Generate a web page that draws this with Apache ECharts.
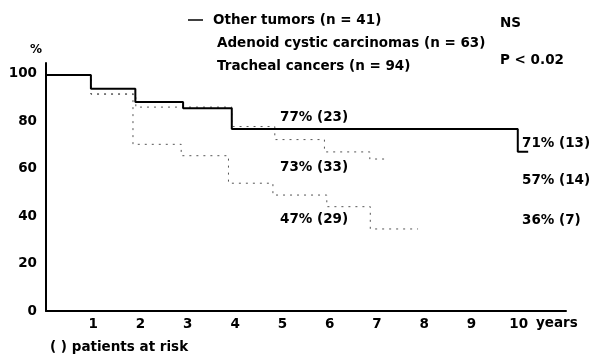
<!DOCTYPE html>
<html>
<head>
<meta charset="utf-8">
<script src="https://cdn.jsdelivr.net/npm/echarts@6/dist/echarts.min.js"></script>
<style>
html,body{margin:0;padding:0;background:#fff;}
#c{width:596px;height:354px;}
</style>
</head>
<body>
<div id="c"></div>
<script>
// Data (years, survival %)
var otherYears = [0, 0.95, 1.89, 2.9, 3.93, 9.98, 10.2];
var otherSurv  = [99.5, 93.7, 88.1, 85.5, 76.8, 67.2, 67.2];
var adenoidYears = [0, 0.95, 1.9, 3.93, 4.84, 5.89, 6.85, 7.23];
var adenoidSurv  = [99.5, 91.5, 86.0, 77.8, 72.3, 67.1, 64.1, 64.1];
var trachealYears = [0, 0.95, 1.84, 2.86, 3.86, 4.80, 5.94, 6.86, 7.87];
var trachealSurv  = [99.5, 91.5, 70.3, 65.5, 53.9, 48.9, 44.0, 34.6, 34.6];
var legendLabels = ['Other tumors (n = 41)', 'Adenoid cystic carcinomas (n = 63)', 'Tracheal cancers (n = 94)'];
var pLabels = ['NS', 'P < 0.02'];
var fiveYearLabels = ['77% (23)', '73% (33)', '47% (29)'];
var tenYearLabels = ['71% (13)', '57% (14)', '36% (7)'];
var yTicks = [0, 20, 40, 60, 80, 100];
var xTicks = [1, 2, 3, 4, 5, 6, 7, 8, 9, 10];

function pairs(xs, ys){ return xs.map(function(x,i){ return [x, ys[i]]; }); }

var FONT = 'DejaVu Sans';
var FS = 13.5;
function txt(str, x, y, opts){
  opts = opts || {};
  return {
    type: 'text', left: undefined, x: x, y: y,
    style: {
      text: str, fill: '#000', font: 'bold ' + (opts.fs || FS) + 'px "' + FONT + '"',
      textAlign: opts.align || 'left', textVerticalAlign: 'middle'
    }
  };
}

var chart = echarts.init(document.getElementById('c'), null, {renderer: 'canvas'});
chart.setOption({
  animation: false,
  backgroundColor: '#fff',
  grid: {left: 46, right: 30, top: 63, bottom: 43},
  xAxis: {
    type: 'value', min: 0, max: 11, interval: 1,
    axisLine: {lineStyle: {color: '#000', width: 2}},
    axisTick: {show: false},
    splitLine: {show: false},
    axisLabel: {
      color: '#000', fontFamily: FONT, fontWeight: 'bold', fontSize: FS, margin: 6,
      formatter: function(v){ return xTicks.indexOf(v) >= 0 ? String(v) : ''; }
    }
  },
  yAxis: {
    type: 'value', min: 0, max: 104.6, interval: 20,
    axisLine: {show: true, lineStyle: {color: '#000', width: 2}},
    axisTick: {show: false},
    splitLine: {show: false},
    axisLabel: {
      color: '#000', fontFamily: FONT, fontWeight: 'bold', fontSize: FS, margin: 9,
      padding: [0, 0, 12, 0],
      formatter: function(v){ return yTicks.indexOf(v) >= 0 ? String(v) : ''; }
    }
  },
  series: [
    {
      name: legendLabels[0], type: 'line', step: 'end', symbol: 'none',
      data: pairs(otherYears, otherSurv),
      lineStyle: {color: '#000', width: 2}, z: 3
    },
    {
      name: legendLabels[1], type: 'line', step: 'end', symbol: 'none',
      data: pairs(adenoidYears, adenoidSurv),
      lineStyle: {color: '#555', width: 1, type: [2, 5]}, z: 2
    },
    {
      name: legendLabels[2], type: 'line', step: 'end', symbol: 'none',
      data: pairs(trachealYears, trachealSurv),
      lineStyle: {color: '#555', width: 1, type: [2, 5]}, z: 2
    }
  ],
  graphic: [
    {type: 'line', shape: {x1: 188, y1: 20, x2: 203, y2: 20}, style: {stroke: '#000', lineWidth: 1.5}},
    txt(legendLabels[0], 213, 20),
    txt(legendLabels[1], 217, 43),
    txt(legendLabels[2], 217, 66),
    txt(pLabels[0], 500, 23),
    txt(pLabels[1], 500, 60),
    txt('%', 36, 50, {align: 'center', fs: 12}),
    txt(fiveYearLabels[0], 280, 117),
    txt(fiveYearLabels[1], 280, 167),
    txt(fiveYearLabels[2], 280, 219),
    txt(tenYearLabels[0], 522, 143),
    txt(tenYearLabels[1], 522, 180),
    txt(tenYearLabels[2], 522, 220),
    txt('years', 536, 323),
    txt('( ) patients at risk', 50, 347)
  ]
});
</script>
</body>
</html>
